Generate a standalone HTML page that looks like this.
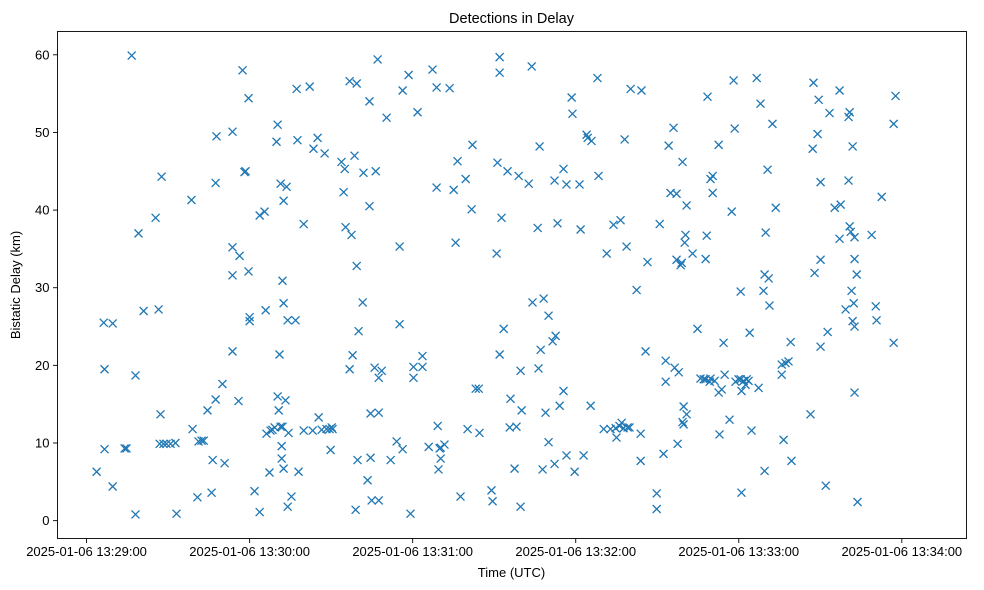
<!DOCTYPE html>
<html><head><meta charset="utf-8"><style>
html,body{margin:0;padding:0;background:#fff;}
svg{display:block;font-family:"Liberation Sans","DejaVu Sans",sans-serif;}
</style></head><body>
<svg id="chart" width="984" height="590" viewBox="0 0 984 590" xmlns="http://www.w3.org/2000/svg">
<rect width="984" height="590" fill="#fff"/>
<text x="511.5" y="23" text-anchor="middle" font-size="14.5" fill="#000">Detections in Delay</text>
<g id="marks"></g>
<g id="xticks"></g>
<g id="yticks"></g>
<rect x="57.5" y="31.5" width="909" height="507" fill="none" stroke="#000" stroke-width="0.9"/>
<text x="511.5" y="577" text-anchor="middle" font-size="13" fill="#000">Time (UTC)</text>
<text transform="translate(20,285) rotate(-90)" text-anchor="middle" font-size="13" fill="#000">Bistatic Delay (km)</text>
</svg>
<script>
// seconds after 2025-01-06 13:29:00
const times = [3.7,6.3,6.6,6.6,9.6,9.6,14.0,14.7,16.6,18.0,18.0,19.1,21.0,25.4,26.5,27.2,27.6,26.9,28.3,29.4,30.9,32.7,33.1,38.6,39.0,40.8,41.2,42.3,43.1,44.5,46.0,46.4,47.5,47.8,47.5,50.0,50.8,53.7,53.7,53.7,53.7,55.9,56.3,57.4,58.1,58.5,59.6,59.6,60.0,60.0,61.8,63.7,63.7,65.5,65.9,66.2,67.3,67.7,68.4,69.2,70.3,69.9,70.3,70.7,71.0,71.4,71.4,72.1,71.8,71.8,72.1,72.5,72.5,72.5,73.2,73.6,74.0,74.0,74.3,75.4,76.9,77.3,77.6,78.0,79.9,79.9,82.1,83.2,83.5,85.0,85.4,86.5,87.6,88.3,89.4,90.2,90.5,89.8,93.8,94.6,95.0,95.3,96.8,96.8,97.5,97.9,98.6,99.0,99.4,99.4,99.7,100.1,101.6,101.9,103.4,104.1,104.1,104.5,104.5,104.9,106.0,106.4,107.1,107.5,107.5,107.5,108.6,110.4,111.9,114.1,115.2,115.2,116.3,116.3,118.5,119.2,120.3,120.3,121.8,123.6,123.6,125.9,127.3,128.8,128.8,129.2,129.5,129.9,130.3,130.3,131.7,133.6,135.1,135.8,136.5,137.6,139.5,140.2,141.7,142.0,143.2,144.3,144.6,149.0,149.4,150.9,151.2,152.0,152.0,152.0,152.7,153.5,154.9,156.0,155.7,157.5,158.2,159.0,159.7,159.7,160.1,162.7,163.8,164.1,166.0,166.3,166.7,167.1,167.8,168.2,168.9,170.0,170.0,171.5,172.2,172.6,172.2,173.3,174.1,175.5,175.5,176.6,176.6,178.5,178.8,179.6,181.4,181.8,182.9,184.0,184.4,185.5,185.8,188.0,188.4,190.3,191.4,192.8,193.9,194.7,195.0,196.1,196.5,196.9,197.6,198.0,198.7,199.1,199.8,200.2,202.4,203.9,203.9,204.2,205.7,206.4,209.8,209.8,210.9,212.3,213.1,213.1,214.2,214.9,216.0,216.4,217.1,217.1,217.5,217.9,218.6,219.0,219.3,219.3,219.7,219.7,220.1,220.4,220.8,220.8,223.0,224.8,225.9,227.1,227.8,227.8,228.2,228.5,229.3,229.6,229.6,230.4,230.4,231.1,232.6,232.6,232.9,233.7,234.4,234.8,236.6,237.4,238.1,238.5,238.8,239.9,240.7,240.7,241.0,241.0,241.8,242.5,242.9,243.6,244.0,244.7,246.6,247.3,248.0,249.1,249.5,249.5,249.9,250.6,251.0,251.3,252.4,253.6,256.5,255.8,255.8,257.2,258.3,259.1,259.4,266.4,267.2,267.5,267.9,269.0,269.4,270.1,270.1,270.1,272.0,272.7,273.4,275.3,277.1,277.1,277.5,279.3,280.4,280.4,280.8,280.8,281.2,281.5,281.9,281.9,282.3,282.6,282.6,282.6,282.6,283.4,283.7,288.9,290.4,290.7,292.6,297.0,297.0,297.7];
const delays = [6.3,25.5,19.5,9.2,25.4,4.4,9.3,9.3,59.9,18.7,0.8,37,27,39,27.2,13.7,44.3,9.9,9.9,9.9,9.9,10.0,0.9,41.3,11.8,3.0,10.2,10.3,10.3,14.2,3.6,7.8,15.6,49.5,43.5,17.6,7.4,50.1,35.2,31.6,21.8,15.4,34.1,58.0,44.9,45.0,54.4,32.1,26.2,25.7,3.8,1.1,39.3,39.8,27.1,11.2,6.2,11.6,11.7,12.0,51.0,48.8,16.0,14.2,21.4,43.4,12.1,12.1,9.6,8.0,30.9,28.0,6.7,41.2,15.5,43.0,25.8,1.8,11.3,3.1,25.8,55.6,49.0,6.3,38.2,11.6,55.9,11.6,47.9,49.3,13.3,11.7,47.3,11.8,11.8,12.0,11.8,9.1,46.2,42.3,45.3,37.8,19.5,56.6,36.8,21.3,47.0,1.4,56.3,32.8,7.8,24.4,28.1,44.8,5.2,40.5,54.0,13.8,8.1,2.6,19.7,45.0,59.4,13.9,2.6,18.4,19.3,51.9,7.8,10.2,25.3,35.3,9.2,55.4,57.4,0.9,18.4,19.8,52.6,21.2,19.8,9.5,58.1,55.8,42.9,12.2,6.6,9.3,8.0,9.4,9.8,55.7,42.6,35.8,46.3,3.1,44.0,11.8,40.1,48.4,17.0,17.0,11.3,3.9,2.5,34.4,46.1,57.7,59.7,21.4,39.0,24.7,45.0,15.7,12.0,6.7,12.1,44.4,19.3,1.8,14.2,43.4,58.5,28.1,37.7,19.6,48.2,22.0,6.6,28.6,13.9,26.4,10.1,23.1,43.8,23.8,7.3,38.3,14.8,45.3,16.7,43.3,8.4,54.5,52.4,6.3,43.3,37.5,8.4,49.7,49.3,14.8,48.9,57.0,44.4,11.8,34.4,11.8,38.1,11.9,10.7,12.2,38.7,12.6,11.9,49.1,35.3,12.0,12.0,55.6,29.7,7.7,11.2,55.4,21.8,33.3,1.5,3.5,38.2,8.6,17.9,20.6,48.3,42.2,50.6,19.7,42.1,33.6,9.9,19.1,32.9,33.2,46.2,12.7,12.4,14.7,35.8,36.8,13.7,40.6,34.4,24.7,18.3,18.2,18.2,33.7,36.7,54.6,17.9,44.0,18.3,42.2,44.4,18.0,48.4,16.5,11.1,16.9,22.9,18.8,13.0,39.8,56.7,50.5,17.9,18.2,18.2,29.5,3.6,16.7,18.0,17.5,18.2,18.0,24.2,11.6,57.0,17.1,53.7,29.6,6.4,31.7,37.1,45.2,31.2,27.7,51.1,40.3,10.4,18.8,20.1,20.3,20.5,23.0,7.7,13.7,47.9,56.4,31.9,49.8,54.2,22.4,43.6,33.6,4.5,24.3,52.5,40.3,55.4,36.3,40.7,27.2,52.0,43.8,52.6,37.9,37.2,29.6,48.2,25.7,28.0,33.7,25.0,16.5,36.5,31.7,2.4,36.8,27.6,25.8,41.7,51.1,22.9,54.7];
const xTickSeconds = [0,60,120,180,240,300];
const xTickLabels = ["2025-01-06 13:29:00","2025-01-06 13:30:00","2025-01-06 13:31:00","2025-01-06 13:32:00","2025-01-06 13:33:00","2025-01-06 13:34:00"];
const yTickValues = [0,10,20,30,40,50,60];

const NS = "http://www.w3.org/2000/svg";
const X0=57.5, X1=966.5, Y0=538.5, Y1=31.5;
const xMin=-10.7, xMax=323.8, yMin=-2.3, yMax=63.0;
function xScale(t){return X0+(t-xMin)/(xMax-xMin)*(X1-X0);}
function yScale(d){return Y0-(d-yMin)/(yMax-yMin)*(Y0-Y1);}

const marks=document.getElementById('marks');
for(let i=0;i<times.length;i++){
  const cx=xScale(times[i]), cy=yScale(delays[i]), r=4;
  const p=document.createElementNS(NS,'path');
  p.setAttribute('d',`M${cx-r},${cy-r}L${cx+r},${cy+r}M${cx-r},${cy+r}L${cx+r},${cy-r}`);
  p.setAttribute('stroke','#1f77b4');
  p.setAttribute('stroke-width','1.3');
  p.setAttribute('fill','none');
  
  
  marks.appendChild(p);
}
const xt=document.getElementById('xticks');
xTickSeconds.forEach((s,i)=>{
  const x=xScale(s);
  const l=document.createElementNS(NS,'line');
  l.setAttribute('x1',x);l.setAttribute('x2',x);l.setAttribute('y1',Y0);l.setAttribute('y2',Y0+4.5);
  l.setAttribute('stroke','#000');l.setAttribute('stroke-width','0.9');
  
  
  xt.appendChild(l);
  const t=document.createElementNS(NS,'text');
  t.setAttribute('x',x);t.setAttribute('y',556);t.setAttribute('text-anchor','middle');t.setAttribute('font-size','13');
  t.textContent=xTickLabels[i];
  
  
  xt.appendChild(t);
});
const yt=document.getElementById('yticks');
yTickValues.forEach(v=>{
  const y=yScale(v);
  const l=document.createElementNS(NS,'line');
  l.setAttribute('x1',X0-4.5);l.setAttribute('x2',X0);l.setAttribute('y1',y);l.setAttribute('y2',y);
  l.setAttribute('stroke','#000');l.setAttribute('stroke-width','0.9');
  
  
  yt.appendChild(l);
  const t=document.createElementNS(NS,'text');
  t.setAttribute('x',X0-8);t.setAttribute('y',y+4.5);t.setAttribute('text-anchor','end');t.setAttribute('font-size','13');
  t.textContent=String(v);
  
  
  yt.appendChild(t);
});
</script>
</body></html>
